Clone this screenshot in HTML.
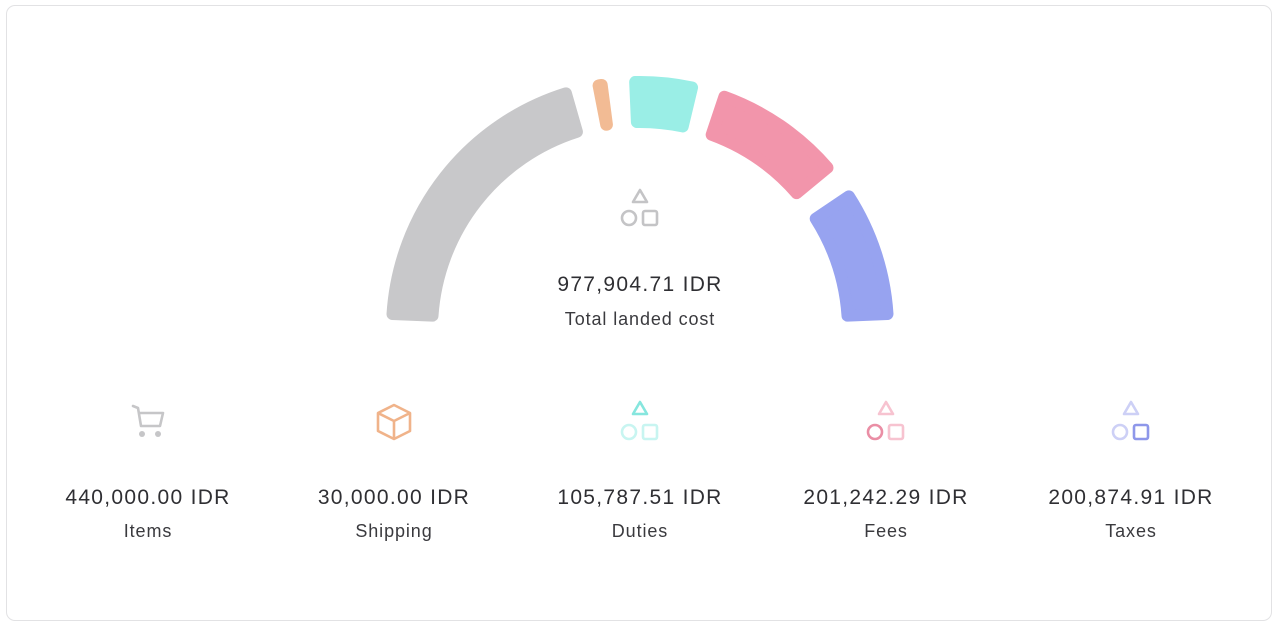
<!DOCTYPE html>
<html><head><style>
body{margin:0;background:#fff;width:1280px;height:630px;overflow:hidden;font-family:"Liberation Sans",sans-serif;color:#2f2f33}
.card{position:absolute;left:6px;top:5px;width:1266px;height:616px;border:1.5px solid #e2e2e4;border-radius:9px;box-sizing:border-box}
.t{position:absolute;text-align:center;width:260px}
.v{font-size:21px;letter-spacing:1.3px}
.l{font-size:18px;letter-spacing:.9px;color:#3a3a3e}
</style></head><body>
<div class="card"></div>
<svg width="1280" height="630" style="position:absolute;left:0;top:0">
<g id="g" stroke-linejoin="round" stroke-width="12"></g>
<g fill="none" stroke="#c4c4c6" stroke-width="2.6" stroke-linejoin="round">
<path d="M640 190 L647 202 L633 202 Z"/><circle cx="629" cy="218" r="7"/><rect x="643" y="211" width="14" height="14" rx="2"/>
</g>
<g fill="none" stroke="#c6c6c8" stroke-width="2.6" stroke-linejoin="round" stroke-linecap="round">
<path d="M133 406 L138 408 L141 426 L160 426 L163 413 L140 413"/>
</g>
<circle cx="142" cy="434" r="3" fill="#c6c6c8"/><circle cx="158" cy="434" r="3" fill="#c6c6c8"/>
<g fill="none" stroke="#f0b38a" stroke-width="2.6" stroke-linejoin="round">
<path d="M394 405 L410 413 L410 431 L394 439 L378 431 L378 413 Z M378 413 L394 421 L410 413 M394 421 L394 439"/>
</g>
<g fill="none" stroke-width="2.6" stroke-linejoin="round">
<path d="M640 402 L647 414 L633 414 Z" stroke="#86e6de"/><circle cx="629" cy="432" r="7" stroke="#c8f5f1"/><rect x="643" y="425" width="14" height="14" rx="2" stroke="#c8f5f1"/>
<path d="M886 402 L893 414 L879 414 Z" stroke="#f7c3d0"/><circle cx="875" cy="432" r="7" stroke="#ea8ea5"/><rect x="889" y="425" width="14" height="14" rx="2" stroke="#f7c3d0"/>
<path d="M1131 402 L1138 414 L1124 414 Z" stroke="#cdd0f6"/><circle cx="1120" cy="432" r="7" stroke="#cdd0f6"/><rect x="1134" y="425" width="14" height="14" rx="2" stroke="#8e97ea"/>
</g>
</svg>
<div class="t v" style="left:510px;top:273px">977,904.71 IDR</div>
<div class="t l" style="left:510px;top:309px">Total landed cost</div>
<div class="t v" style="left:18px;top:486px">440,000.00 IDR</div><div class="t l" style="left:18px;top:521px">Items</div>
<div class="t v" style="left:264px;top:486px">30,000.00 IDR</div><div class="t l" style="left:264px;top:521px">Shipping</div>
<div class="t v" style="left:510px;top:486px">105,787.51 IDR</div><div class="t l" style="left:510px;top:521px">Duties</div>
<div class="t v" style="left:756px;top:486px">201,242.29 IDR</div><div class="t l" style="left:756px;top:521px">Fees</div>
<div class="t v" style="left:1001px;top:486px">200,874.91 IDR</div><div class="t l" style="left:1001px;top:521px">Taxes</div>
<script>
var segs=[[177.7,106,"#c8c8ca"],[101,97.5,"#f2bb94"],[92.5,76.5,"#9aeee6"],[71.5,39.5,"#f295ab"],[34,2.3,"#97a3f0"]];
var cx=640,cy=330,ro=248,ri=208,h="";
function p(r,a){a=a*Math.PI/180;return (cx+r*Math.cos(a)).toFixed(2)+" "+(cy-r*Math.sin(a)).toFixed(2);}
segs.forEach(function(s){
 var a1=s[0],a2=s[1];
 var io=6/ro*180/Math.PI, ii=6/ri*180/Math.PI;
 var o1=a1-io,o2=a2+io,i1=a1-ii,i2=a2+ii;
 var d="M"+p(ro,o1)+" A"+ro+" "+ro+" 0 0 1 "+p(ro,o2)+" L"+p(ri,i2)+" A"+ri+" "+ri+" 0 0 0 "+p(ri,i1)+" Z";
 h+='<path d="'+d+'" fill="'+s[2]+'" stroke="'+s[2]+'"/>';
});
document.getElementById("g").innerHTML=h;
</script>
</body></html>
